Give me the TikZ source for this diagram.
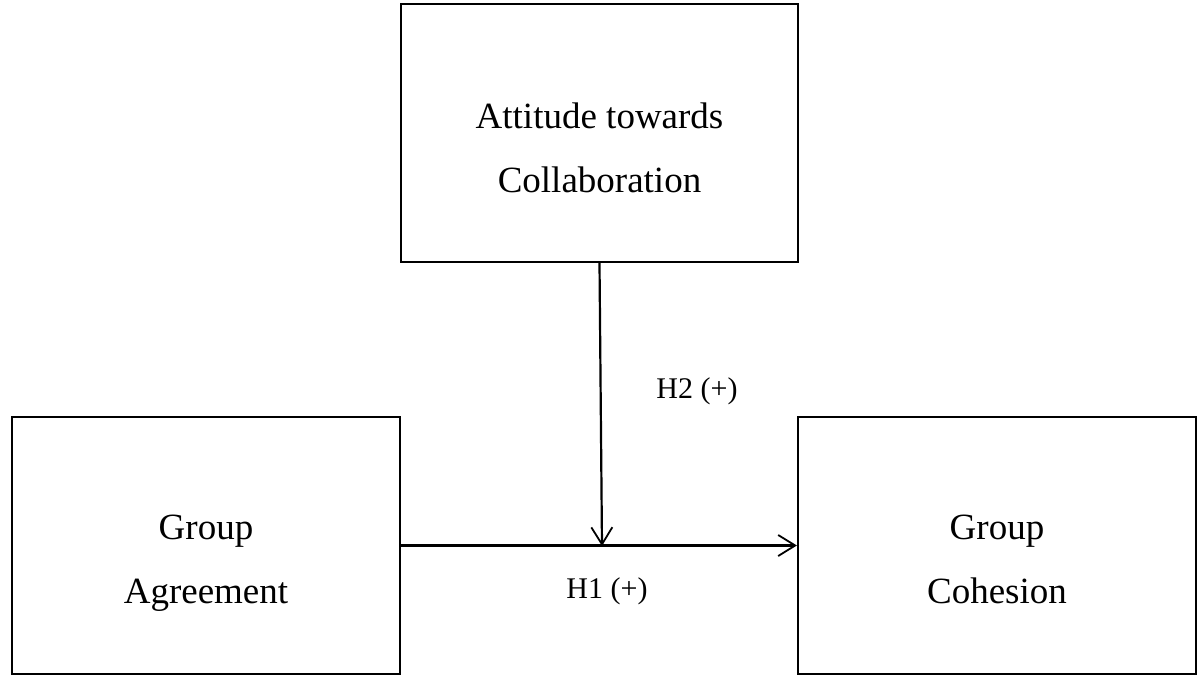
\documentclass[tikz,border=0pt]{standalone}
\usepackage{fontspec}
\setmainfont{Liberation Serif}
\usetikzlibrary{arrows.meta}
\tikzset{
  boxnode/.style={draw=black, line width=2.2pt, inner sep=0pt, minimum width=#1},
  boxtext/.style={align=center, inner sep=0pt, font=\fontsize{37}{64.5}\selectfont},
  lbl/.style={inner sep=0pt, font=\fontsize{30}{36}\selectfont},
  conn/.style={line width=2.2pt, -{Straight Barb[length=17pt,width=21pt,line width=1.8pt]}}
}
\begin{document}
\begin{tikzpicture}[x=1pt,y=-1pt]
\useasboundingbox (0,0) rectangle (1197,675);
\node[boxnode=397pt, minimum height=258pt] (tb) at (599.5,133) {};
\node[boxnode=388pt, minimum height=257pt] (ga) at (206,545.5) {};
\node[boxnode=398pt, minimum height=257pt] (gc) at (997,545.5) {};
\node[boxtext] (tbt) at ([yshift=-15pt]tb.center) {Attitude towards\\Collaboration};
\node[boxtext] (gat) at ([yshift=-17.5pt]ga.center) {Group\\Agreement};
\node[boxtext] (gct) at ([yshift=-14pt]gc.center) {Group\\Cohesion};
\coordinate (meet) at (602,546);
\draw[conn] (ga.east) -- (gc.west);
\draw[conn] (tb.south) -- (meet);
\node[lbl, anchor=base] (h2) at (697,398) {H2 (+)};
\node[lbl, anchor=base] (h1) at (607,598) {H1 (+)};
\end{tikzpicture}
\end{document}
